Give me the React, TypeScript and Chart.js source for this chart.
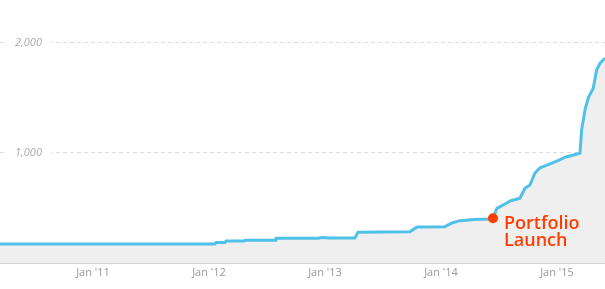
import React, { useEffect, useRef } from "react";
import { Chart, registerables } from "chart.js";

Chart.register(...registerables);

// x = months since Jan 2010
const months = [
  2.38, 10.0, 20.0, 24.62, 24.72, 25.65, 25.76, 27.62, 27.72, 30.83, 30.93, 33.0,
  35.27, 35.69, 36.52, 39.1, 39.41, 42.0, 44.79, 45.52, 48.41, 49.14, 49.97, 51.5,
  53.07, 53.38, 53.79, 54.62, 55.14, 56.17, 56.69, 57.21, 57.72, 58.24, 59.28,
  60.1, 60.83, 62.38, 62.55, 62.9, 63.24, 63.75, 64.11, 64.45, 64.97,
];
const users = [
  173, 173, 173, 173, 186, 186, 200, 200, 206, 206, 225, 225,
  225, 232, 228, 227, 279, 281, 285, 327, 330, 364, 385, 395,
  400, 406, 497, 536, 564, 588, 679, 709, 818, 864, 900,
  930, 961, 997, 1209, 1391, 1500, 1588, 1755, 1815, 1861,
];
const yearTicks = [12, 24, 36, 48, 60];
const yearLabels = ["Jan '11", "Jan '12", "Jan '13", "Jan '14", "Jan '15"];
const valueTicks = [1000, 2000];
const launchMonth = [53.38];
const launchValue = [406];
const launchText = ["Portfolio", "Launch"];

const annotationPlugin = {
  id: "launchLabel",
  afterDatasetsDraw(chart: any) {
    const meta = chart.getDatasetMeta(1);
    const pt = meta && meta.data && meta.data[0];
    if (!pt) return;
    const ctx = chart.ctx;
    ctx.save();
    ctx.fillStyle = "#ff3d00";
    ctx.font = "600 18px 'Open Sans'";
    ctx.textAlign = "left";
    ctx.textBaseline = "alphabetic";
    ctx.fillText(launchText[0], pt.x + 11, pt.y + 11);
    ctx.fillText(launchText[1], pt.x + 11, pt.y + 28);
    ctx.restore();
  },
};

export default function App() {
  const ref = useRef<HTMLCanvasElement | null>(null);
  useEffect(() => {
    document.body.style.margin = "0";
    const canvas = ref.current!;
    const chart = new Chart(canvas, {
      type: "line",
      data: {
        datasets: [
          {
            data: months.map((m, i) => ({ x: m, y: users[i] })),
            borderColor: "#4fc1e9",
            borderWidth: 3,
            backgroundColor: "#efefef",
            fill: "origin",
            pointRadius: 0,
            pointHoverRadius: 0,
            tension: 0,
            borderJoinStyle: "round",
            order: 2,
          },
          {
            data: launchMonth.map((m, i) => ({ x: m, y: launchValue[i] })),
            showLine: false,
            pointRadius: 5,
            pointHoverRadius: 5,
            pointBackgroundColor: "#ff3d00",
            pointBorderWidth: 0,
            borderColor: "#ff3d00",
            order: 1,
            clip: false,
          },
        ],
      },
      options: {
        responsive: false,
        animation: false,
        layout: { padding: 0, autoPadding: false },
        plugins: { legend: { display: false }, tooltip: { enabled: false } },
        scales: {
          x: {
            type: "linear",
            min: months[0],
            max: months[months.length - 1],
            afterBuildTicks: (s: any) => {
              s.ticks = yearTicks.map((v) => ({ value: v }));
            },
            afterFit: (s: any) => {
              s.height = 26;
              s.paddingLeft = 0;
              s.paddingRight = 0;
            },
            grid: { display: false, drawTicks: false },
            border: { display: true, color: "#d6d6d6", width: 2 },
            ticks: {
              padding: 3,
              color: "#999",
              font: { family: "'Open Sans'", size: 11 },
              maxRotation: 0,
              autoSkip: false,
              callback: (v: any) => {
                const i = yearTicks.indexOf(Number(v));
                return i >= 0 ? yearLabels[i] : "";
              },
            },
          },
          y: {
            min: 0,
            max: 2390,
            afterBuildTicks: (s: any) => {
              s.ticks = valueTicks.map((v) => ({ value: v }));
            },
            afterFit: (s: any) => {
              s.width = 0;
              s.paddingTop = 0;
              s.paddingBottom = 0;
            },
            grid: { color: "#dcdcdc", drawTicks: false, lineWidth: 1 },
            border: { display: false, dash: [4, 3] },
            ticks: {
              mirror: true,
              padding: 15,
              color: "#aaa",
              font: { family: "'Open Sans'", size: 11, style: "italic" },
              showLabelBackdrop: true,
              backdropColor: "#ffffff",
              backdropPadding: { left: 8, right: 10, top: 2, bottom: 2 },
              callback: (v: any) => Number(v).toLocaleString("en-US"),
            },
          },
        },
      } as any,
      plugins: [annotationPlugin],
    });
    return () => chart.destroy();
  }, []);
  return <canvas ref={ref} width={605} height={289} style={{ display: "block" }} />;
}
